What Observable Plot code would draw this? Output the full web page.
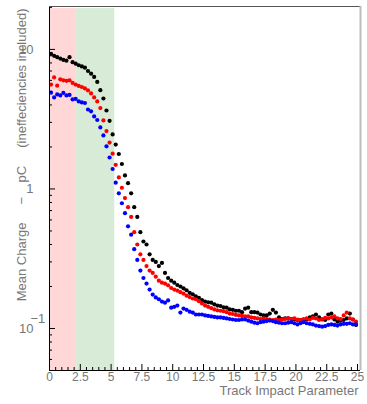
<!DOCTYPE html>
<html><head><meta charset="utf-8">
<script src="https://cdn.jsdelivr.net/npm/d3@7"></script>
<script src="https://cdn.jsdelivr.net/npm/@observablehq/plot@0.6"></script>
<style>body{margin:0;background:#fff}</style>
</head><body><div id="chart"></div>
<script>
// Track impact parameter bin centres
const xCenters = [0.125,0.375,0.625,0.875,1.125,1.375,1.625,1.875,2.125,2.375,2.625,2.875,3.125,3.375,3.625,3.875,4.125,4.375,4.625,4.875,
5.125,5.375,5.625,5.875,6.125,6.375,6.625,6.875,7.125,7.375,7.625,7.875,8.125,8.375,8.625,8.875,9.125,9.375,9.625,9.875,
10.125,10.375,10.625,10.875,11.125,11.375,11.625,11.875,12.125,12.375,12.625,12.875,13.125,13.375,13.625,13.875,14.125,14.375,14.625,14.875,
15.125,15.375,15.625,15.875,16.125,16.375,16.625,16.875,17.125,17.375,17.625,17.875,18.125,18.375,18.625,18.875,19.125,19.375,19.625,19.875,
20.125,20.375,20.625,20.875,21.125,21.375,21.625,21.875,22.125,22.375,22.625,22.875,23.125,23.375,23.625,23.875,24.125,24.375,24.625,24.875];

// Mean charge (pC), black series
const blackValues = [9.3,9.0,8.8,8.6,8.4,8.3,8.8,8.1,7.9,7.7,7.55,7.4,7.0,6.7,6.35,5.85,5.1,4.45,3.65,3.08,
2.46,2.08,1.78,1.51,1.25,1.10,0.93,0.74,0.63,0.49,0.42,0.40,0.34,0.31,0.30,0.28,0.295,0.25,0.23,0.22,
0.213,0.205,0.20,0.194,0.188,0.18,0.176,0.17,0.166,0.16,0.156,0.154,0.153,0.149,0.146,0.145,0.142,0.141,0.137,0.136,
0.134,0.134,0.131,0.139,0.141,0.131,0.131,0.130,0.126,0.124,0.124,0.128,0.136,0.130,0.12,0.117,0.118,0.118,0.117,0.116,
0.115,0.115,0.114,0.116,0.120,0.122,0.126,0.12,0.116,0.115,0.126,0.128,0.116,0.112,0.114,0.115,0.118,0.128,0.116,0.106];

// Mean charge (pC), red series
const redValues = [5.6,6.3,5.5,6.1,6.0,5.95,6.0,5.75,5.6,5.47,5.38,5.25,5.08,4.84,4.53,4.24,3.8,3.1,2.6,2.15,
1.79,1.49,1.21,1.02,0.86,0.74,0.63,0.49,0.40,0.34,0.31,0.28,0.26,0.25,0.235,0.22,0.213,0.21,0.204,0.195,
0.19,0.187,0.182,0.178,0.172,0.168,0.164,0.162,0.157,0.151,0.146,0.143,0.14,0.137,0.135,0.134,0.133,0.131,0.128,0.127,
0.125,0.124,0.123,0.122,0.122,0.120,0.119,0.118,0.117,0.118,0.117,0.116,0.115,0.116,0.115,0.116,0.117,0.118,0.117,0.118,
0.116,0.115,0.117,0.118,0.116,0.119,0.118,0.115,0.117,0.119,0.118,0.12,0.122,0.118,0.117,0.124,0.130,0.118,0.116,0.112];

// Mean charge (pC), blue series
const blueValues = [4.9,4.53,4.76,4.68,4.88,4.68,4.72,4.38,4.42,4.24,4.17,4.13,3.71,3.6,3.31,3.12,2.76,2.42,2.02,1.68,
1.39,1.11,0.93,0.79,0.67,0.54,0.47,0.37,0.31,0.26,0.23,0.21,0.19,0.175,0.167,0.162,0.156,0.153,0.159,0.141,
0.143,0.146,0.13,0.139,0.136,0.132,0.13,0.126,0.126,0.126,0.124,0.123,0.122,0.121,0.12,0.12,0.119,0.118,0.117,0.116,
0.115,0.115,0.116,0.116,0.114,0.112,0.11,0.109,0.111,0.112,0.113,0.114,0.113,0.111,0.11,0.109,0.109,0.11,0.111,0.109,
0.107,0.109,0.111,0.109,0.108,0.107,0.105,0.104,0.103,0.104,0.106,0.107,0.106,0.105,0.107,0.108,0.108,0.109,0.107,0.107];

// Shaded regions (x ranges)
const bandStarts = [0, 2.2];
const bandEnds = [2.2, 5.3];
const bandColors = ["#ffd7d7", "#d7ebd7"];
const bandTop = 19.6;

// Axis ticks
const xDomain = [0, 25.24];
const yDomain = [0.05, 20.3];
const xMajor = [0, 2.5, 5, 7.5, 10, 12.5, 15, 17.5, 20, 22.5, 25];
const xMajorLabels = ["0", "2.5", "5", "7.5", "10", "12.5", "15", "17.5", "20", "22.5", "25"];
const xMinor = [0.5,1,1.5,2,3,3.5,4,4.5,5.5,6,6.5,7,8,8.5,9,9.5,10.5,11,11.5,12,13,13.5,14,14.5,15.5,16,16.5,17,18,18.5,19,19.5,20.5,21,21.5,22,23,23.5,24,24.5];
const yMajor = [0.1, 1, 10];
const yMajorBase = ["10", "1", "10"];
const yMajorExp = ["−1", "", ""];
const yMinor = [0.06,0.07,0.08,0.09,0.2,0.3,0.4,0.5,0.6,0.7,0.8,0.9,2,3,4,5,6,7,8,9,20];

const xTitle = "Track Impact Parameter";
const yTitle = "Mean Charge\u00A0\u00A0\u00A0\u00A0\u00A0\u2212\u00A0\u00A0\u00A0\u00A0pC\u00A0\u00A0\u00A0\u00A0\u00A0(ineffeciencies included)";

const W = 367, H = 404, mL = 49, mR = 7, mT = 6, mB = 34;
const pw = W - mL - mR, ph = H - mT - mB;

const series = [
  {values: blackValues, color: "#000000"},
  {values: redValues, color: "#ff0000"},
  {values: blueValues, color: "#0000ff"}
];
const bands = bandStarts.map((s, i) => ({x1: s, x2: bandEnds[i], y1: yDomain[0], y2: bandTop, fill: bandColors[i]}));

const chart = Plot.plot({
  width: W, height: H,
  marginLeft: mL, marginRight: mR, marginTop: mT, marginBottom: mB,
  x: {domain: xDomain, axis: null},
  y: {type: "log", domain: yDomain, axis: null},
  style: {fontFamily: "'Liberation Sans', Arial, sans-serif", fontSize: "13px", color: "#777", background: "#fff"},
  marks: [
    Plot.rect(bands, {x1: "x1", x2: "x2", y1: "y1", y2: "y2", fill: "fill"}),
    ...series.map(s => Plot.dot(s.values.map((v, i) => ({x: xCenters[i], y: v})), {x: "x", y: "y", r: 2.1, fill: s.color, stroke: "none"})),
    Plot.ruleX([xDomain[0]], {stroke: "#000", strokeWidth: 1}),
    Plot.ruleY([yDomain[0]], {stroke: "#000", strokeWidth: 1}),
    Plot.ruleY([yDomain[1]], {stroke: "#555", strokeWidth: 1}),
    Plot.ruleX([xDomain[1]], {stroke: "#bdbdbd", strokeWidth: 2}),
    Plot.tickY(yMajor, {y: d => d, stroke: "#000", insetRight: pw - 6}),
    Plot.tickY(yMinor, {y: d => d, stroke: "#000", insetRight: pw - 3}),
    Plot.tickX(xMajor, {x: d => d, stroke: "#000", insetTop: ph - 6}),
    Plot.tickX(xMinor, {x: d => d, stroke: "#000", insetTop: ph - 3}),
    Plot.text(yMajor, {y: d => d, text: (d, i) => yMajorBase[i], frameAnchor: "left", dx: (-16), textAnchor: "end", fill: "#777"}),
    Plot.text([yMajor[0]], {y: d => d, text: [yMajorExp[0]], frameAnchor: "left", dx: -19, dy: -10, textAnchor: "start", fill: "#777"}),
    Plot.text(xMajor, {x: d => d, text: (d, i) => xMajorLabels[i], frameAnchor: "bottom", dy: 10, fill: "#777", fontSize: 12}),
    Plot.text([xTitle], {frameAnchor: "bottom-right", dx: -2, dy: 24, textAnchor: "end", fill: "#777"}),
    Plot.text([yTitle], {frameAnchor: "top-left", rotate: -90, textAnchor: "end", dx: -33, dy: 2, fill: "#777"})
  ]
});
document.getElementById("chart").appendChild(chart);
</script>
</body></html>
